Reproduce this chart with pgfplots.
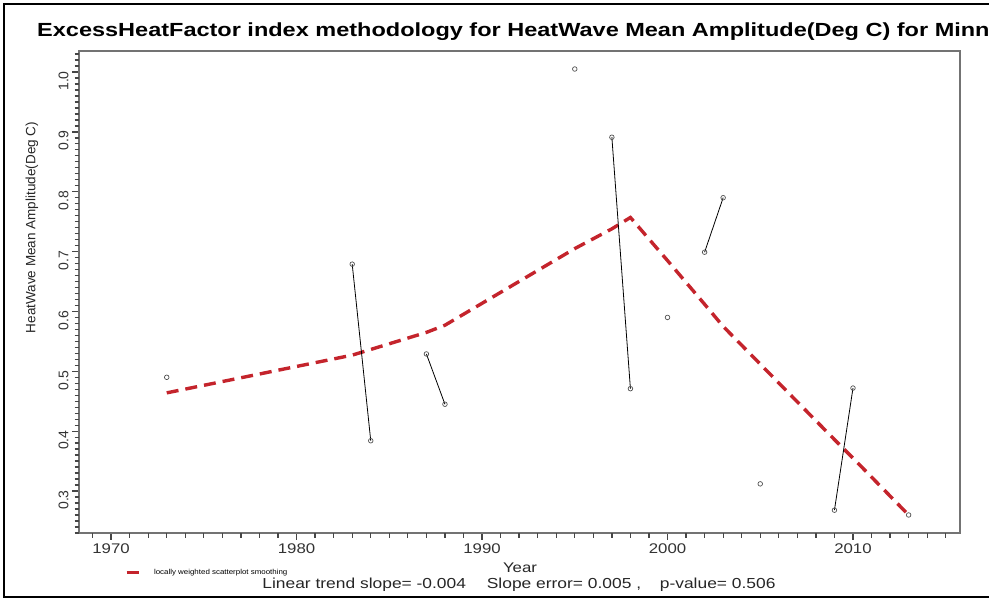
\documentclass[border=0pt]{standalone}
\usepackage{pgfplots}
\pgfplotsset{compat=1.18}
\usepackage{graphicx}
\usepackage{fontspec}
\setmainfont{Liberation Sans}

\definecolor{loess}{RGB}{196,36,44}
\definecolor{axisgray}{RGB}{115,115,115}
\definecolor{tickgray}{RGB}{70,70,70}
\definecolor{ptgray}{RGB}{80,80,80}

% horizontally widened text, as in the device output
\newcommand{\wide}[2][1.2]{\scalebox{#1}[1]{#2}}

\begin{document}
\begin{tikzpicture}
\useasboundingbox (0pt,0pt) rectangle (989pt,601pt);
% outer frame of the figure
\draw[black, line width=1.6pt] (4pt,4pt) rectangle (1005pt,597pt);
% title
\node[anchor=base west, inner sep=0, font=\fontsize{19}{22}\bfseries\selectfont]
  at (37pt,564pt) {\wide[1.237]{ExcessHeatFactor index methodology for HeatWave Mean Amplitude(Deg C) for Minna}};

\begin{axis}[
  at={(79pt,68pt)}, anchor=south west,
  scale only axis, width=881pt, height=482pt,
  xmin=1968.27, xmax=2015.77,
  ymin=0.2299, ymax=1.0351,
  axis line style={axisgray, line width=1.2pt},
  xtick pos=bottom, ytick pos=left,
  tick align=outside,
  major tick length=7pt,
  tick style={tickgray, line width=1.3pt},
  xtick={1970,1980,1990,2000,2010},
  xticklabels={\wide{1970},\wide{1980},\wide{1990},\wide{2000},\wide{2010}},
  ytick={0.3,0.4,0.5,0.6,0.7,0.8,0.9,1.0},
  yticklabels={0.3,0.4,0.5,0.6,0.7,0.8,0.9,1.0},
  % yearly and hundredth subdivisions, drawn as short unlabelled ticks
  extra x ticks={1969,1971,1972,1973,1974,1975,1976,1977,1978,1979,1981,1982,1983,1984,1985,1986,1987,1988,1989,1991,1992,1993,1994,1995,1996,1997,1998,1999,2001,2002,2003,2004,2005,2006,2007,2008,2009,2011,2012,2013,2014,2015},
  extra x tick labels={},
  extra x tick style={major tick length=5pt},
  extra y ticks={0.23,0.24,0.25,0.26,0.27,0.28,0.29,0.31,0.32,0.33,0.34,0.35,0.36,0.37,0.38,0.39,0.41,0.42,0.43,0.44,0.45,0.46,0.47,0.48,0.49,0.51,0.52,0.53,0.54,0.55,0.56,0.57,0.58,0.59,0.61,0.62,0.63,0.64,0.65,0.66,0.67,0.68,0.69,0.71,0.72,0.73,0.74,0.75,0.76,0.77,0.78,0.79,0.81,0.82,0.83,0.84,0.85,0.86,0.87,0.88,0.89,0.91,0.92,0.93,0.94,0.95,0.96,0.97,0.98,0.99,1.01,1.02,1.03},
  extra y tick labels={},
  extra y tick style={major tick length=4.5pt},
  xticklabel style={font=\fontsize{14}{16}\selectfont, text=black!80},
  yticklabel style={rotate=90, anchor=south, xshift=-9pt, font=\fontsize{14}{16}\selectfont, text=black!80},
  legend style={draw=none, fill=none, at={(0.052,-0.083)}, anchor=west,
    font=\fontsize{7.2}{9}\selectfont, inner sep=0pt},
  legend image code/.code={\draw[#1, solid, line width=3pt] (0pt,0pt) -- (12pt,0pt);},
]
% locally weighted smoothing curve
\addplot[loess, line width=3.4pt, dash pattern=on 12pt off 7pt, line cap=butt] coordinates {
  (1973,0.464) (1983,0.527) (1987,0.565) (1988,0.577) (1995,0.705) (1997,0.738)
  (1998,0.757) (2000,0.685) (2002,0.612) (2003,0.575) (2005,0.512) (2009,0.386)
  (2010,0.355) (2013,0.260)
};
\addlegendentry{\hspace{12pt}\wide[1.1]{locally weighted scatterplot smoothing}}

% observed values, consecutive years joined
\pgfplotsset{every axis plot/.append style={forget plot}}
\addplot[black, line width=0.8pt, mark=o, mark size=2.3pt, mark options={ptgray, line width=0.7pt}]
  coordinates {(1983,0.679) (1984,0.384)};
\addplot[black, line width=0.8pt, mark=o, mark size=2.3pt, mark options={ptgray, line width=0.7pt}]
  coordinates {(1987,0.529) (1988,0.445)};
\addplot[black, line width=0.8pt, mark=o, mark size=2.3pt, mark options={ptgray, line width=0.7pt}]
  coordinates {(1997,0.891) (1998,0.471)};
\addplot[black, line width=0.8pt, mark=o, mark size=2.3pt, mark options={ptgray, line width=0.7pt}]
  coordinates {(2002,0.699) (2003,0.790)};
\addplot[black, line width=0.8pt, mark=o, mark size=2.3pt, mark options={ptgray, line width=0.7pt}]
  coordinates {(2009,0.268) (2010,0.472)};
\addplot[only marks, mark=o, mark size=2.3pt, mark options={ptgray, line width=0.7pt}]
  coordinates {(1973,0.490) (1995,1.005) (2000,0.590) (2005,0.312) (2013,0.260)};
\end{axis}

% axis titles and trend statistics
\node[rotate=90, font=\fontsize{13.5}{15}\selectfont, text=black!85] at (32pt,373.5pt) {HeatWave Mean Amplitude(Deg C)};
\node[inner sep=0pt, font=\fontsize{14}{16}\selectfont, text=black!85] at (520pt,33pt) {\wide{Year}};
\node[inner sep=0pt, font=\fontsize{14.5}{16}\selectfont, text=black!85] at (519pt,16pt)
  {\wide{Linear trend slope= -0.004\hspace{1.2em}Slope error= 0.005 ,\hspace{0.8em} p-value= 0.506}};
\end{tikzpicture}
\end{document}
